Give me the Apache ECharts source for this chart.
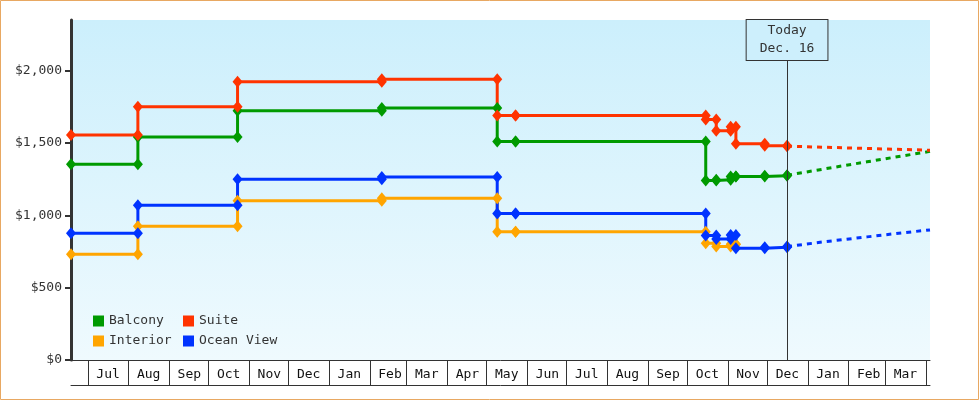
<!DOCTYPE html>
<html>
<head>
<meta charset="utf-8">
<title>Cabin prices</title>
<script src="https://cdn.jsdelivr.net/npm/echarts@6.0.0/dist/echarts.min.js"></script>
<style>
    html, body { margin: 0; padding: 0; background: #fff; }
    #chart { width: 980px; height: 400px; }
</style>
</head>
<body>
<div id="chart"></div>
<script>
const font = "DejaVu Sans Mono";

// observed price dates, a change shows as a vertical step on that day
const dates = ["2021-06-18", "2021-08-08", "2021-10-23", "2022-02-10", "2022-05-09", "2022-05-23",
    "2022-10-15", "2022-10-23", "2022-11-03", "2022-11-07", "2022-11-29", "2022-12-16"];
const balcony = [1353, 1542, 1722, 1741, 1510, 1510, 1240, 1245, 1268, 1268, 1273, 1277];
const suite = [1556, 1750, 1923, 1941, 1690, 1690, 1662, 1584, 1613, 1494, 1480, 1478];
const oceanView = [876, 1070, 1250, 1264, 1012, 1012, 860, 837, 864, 772, 779, 784];
const interior = [731, 925, 1100, 1118, 887, 887, 807, 784, 800, 800];

// projection after today
const projDates = ["2022-12-16", "2023-01-15", "2023-02-15", "2023-03-15", "2023-04-04"];
const balconyProj = [1277, 1323, 1370, 1412, 1442];
const suiteProj = [1478, 1470, 1462, 1455, 1450];
const oceanViewProj = [784, 819, 851, 880, 899];

const monthNames = ["Jan", "Feb", "Mar", "Apr", "May", "Jun", "Jul", "Aug", "Sep", "Oct", "Nov", "Dec"];
const today = "2022-12-16";
const xMin = "2021-06-18";
const xMax = "2023-04-04";

const colors = { balcony: "#009a00", suite: "#ff3300", interior: "#ffa500", oceanView: "#0033ff" };

function toTime(s) {
    const [y, m, d] = s.split("-").map(Number);
    return new Date(y, m - 1, d).getTime();
}

function stepData(values) {
    const out = [[toTime(dates[0]), values[0]]];
    for (let i = 1; i < values.length; i++) {
        out.push([toTime(dates[i]), values[i - 1]]);
        out.push([toTime(dates[i]), values[i]]);
    }
    return out;
}

// month starts Jul 2021 .. Apr 2023
const monthStarts = [];
for (let i = 0; i < 22; i++) {
    monthStarts.push(new Date(2021, 6 + i, 1).getTime());
}

function stepSeries(name, values, color, extra) {
    return Object.assign({
        name: name,
        type: "line",
        xAxisIndex: 0,
        data: stepData(values),
        symbol: "diamond",
        symbolSize: [10, 12],
        lineStyle: { width: 3, color: color },
        itemStyle: { color: color },
        emphasis: { disabled: true },
        silent: true,
    }, extra || {});
}

function projSeries(name, values, color) {
    return {
        name: name,
        type: "line",
        xAxisIndex: 0,
        data: projDates.map((d, i) => [toTime(d), values[i]]),
        showSymbol: false,
        symbol: "none",
        lineStyle: { width: 3, color: color, type: [5, 5] },
        itemStyle: { color: color },
        emphasis: { disabled: true },
        silent: true,
    };
}

const chart = echarts.init(document.getElementById("chart"));
chart.setOption({
    animation: false,
    textStyle: { fontFamily: font },
    graphic: [{
        type: "rect",
        shape: { x: 0.5, y: 0.5, width: 978, height: 399 },
        style: { fill: "none", stroke: "#e8a862", lineWidth: 1 },
        silent: true,
    }],
    grid: {
        left: 71,
        right: 50,
        top: 20,
        bottom: 40,
        show: true,
        borderWidth: 0,
        backgroundColor: new echarts.graphic.LinearGradient(0, 0, 0, 1, [
            { offset: 0, color: "#cceffc" },
            { offset: 1, color: "#effafe" },
        ]),
    },
    legend: {
        data: ["Balcony", "Suite", "Interior", "Ocean View"],
        left: 93,
        top: 313,
        width: 200,
        padding: 0,
        itemGap: 4,
        itemWidth: 11,
        itemHeight: 11,
        icon: "rect",
        selectedMode: false,
        textStyle: { fontFamily: font, fontSize: 13, color: "#333", width: 70, lineHeight: 16 },
    },
    xAxis: [
        {
            type: "value",
            min: toTime(xMin),
            max: toTime(xMax),
            axisLine: { show: true, lineStyle: { color: "#333", width: 1 } },
            axisTick: {
                show: true,
                customValues: monthStarts,
                length: 25,
                lineStyle: { color: "#333", width: 1 },
            },
            axisLabel: {
                customValues: monthStarts.slice(0, -1),
                formatter: (v) => monthNames[new Date(v).getMonth()],
                fontFamily: font,
                fontSize: 13,
                color: "#111",
                margin: 8,
                padding: [0, 0, 0, 40],
            },
            splitLine: { show: false },
        },
        {
            type: "value",
            position: "bottom",
            offset: 25,
            min: toTime(xMin),
            max: toTime(xMax),
            axisLine: { show: true, lineStyle: { color: "#333", width: 1 } },
            axisTick: { show: false },
            axisLabel: { show: false },
            splitLine: { show: false },
        },
    ],
    yAxis: {
        type: "value",
        min: 0,
        max: 2350,
        axisLine: { show: true, lineStyle: { color: "#333", width: 3 } },
        axisTick: {
            show: true,
            customValues: [0, 500, 1000, 1500, 2000],
            length: 6,
            lineStyle: { color: "#333", width: 2 },
        },
        axisLabel: {
            customValues: [0, 500, 1000, 1500, 2000],
            formatter: (v) => "$" + v.toLocaleString("en-US"),
            fontFamily: font,
            fontSize: 13,
            color: "#333",
            margin: 9,
        },
        splitLine: { show: false },
    },
    series: [
        stepSeries("Interior", interior, colors.interior, {
            markLine: {
                silent: true,
                symbol: ["none", "none"],
                lineStyle: { color: "#333", width: 1, type: "solid" },
                label: {
                    show: true,
                    position: "end",
                    distance: 0,
                    formatter: "Today\nDec. 16",
                    fontFamily: font,
                    fontSize: 13,
                    lineHeight: 18,
                    color: "#333",
                    backgroundColor: "#cdeffc",
                    borderColor: "#333",
                    borderWidth: 1,
                    padding: [2, 13],
                },
                data: [[
                    { coord: [toTime(today), 0] },
                    { coord: [toTime(today), 2074] },
                ]],
            },
        }),
        stepSeries("Balcony", balcony, colors.balcony),
        projSeries("Balcony", balconyProj, colors.balcony),
        stepSeries("Ocean View", oceanView, colors.oceanView),
        projSeries("Ocean View", oceanViewProj, colors.oceanView),
        stepSeries("Suite", suite, colors.suite),
        projSeries("Suite", suiteProj, colors.suite),
    ],
});
</script>
</body>
</html>
